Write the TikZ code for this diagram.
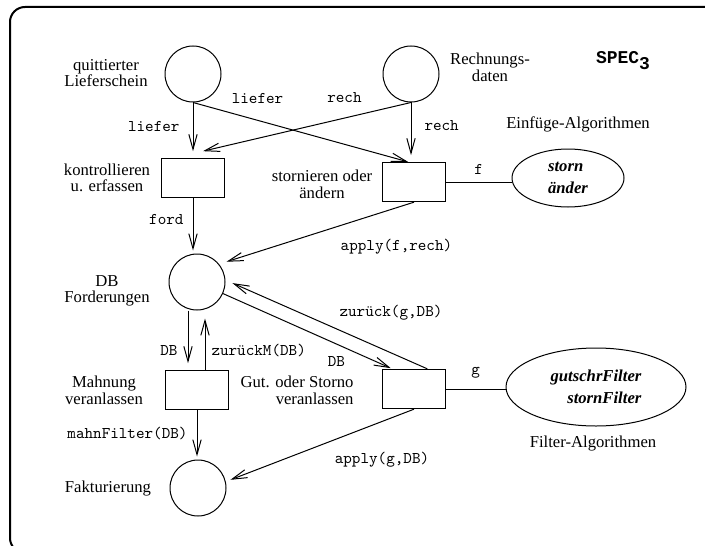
\documentclass[tikz,border=0pt]{standalone}
\usepackage{fontspec}
\setmainfont{Liberation Serif}
\newfontfamily\specfont{Liberation Mono}
\usetikzlibrary{arrows.meta,positioning,shapes.geometric}
\tikzset{
    every node/.append style={font=\fontsize{10}{10}\selectfont},
    place/.style={draw,circle,minimum size=33.6pt,inner sep=0pt},
    trans/.style={draw,rectangle,minimum width=37.5pt,minimum height=23.6pt,inner sep=0pt},
    algo/.style={draw,ellipse,inner sep=0pt,font=\bfseries\itshape\fontsize{10}{13}\selectfont},
    arc/.style={-{Straight Barb[length=9pt,width=5pt]}},
    lab/.style={align=center,inner sep=0pt},
    var/.style={font=\ttfamily\fontsize{9.8}{10}\selectfont,inner sep=0pt}}
\newcommand{\spec}[1]{SPEC\raisebox{-3.6pt}{#1}}

\begin{document}
\begin{tikzpicture}[x=0.6pt,y=-0.6pt,line width=0.6pt]
    \useasboundingbox (0,0) rectangle (705,545);
    \begin{scope}
        \clip (0,0) rectangle (705,545);
        \draw[line width=1.2pt,rounded corners=9pt] (10,7) rectangle (730,553);
    \end{scope}

    % Stellen und Transitionen
    \node[place] (lief) at (193,74) {};
    \node[place] (rech) at (411,74) {};
    \node[trans] (kontr) at (193,178) {};
    \node[trans] (storn) at (414,182) {};
    \node[algo,minimum width=67.2pt,minimum height=34.8pt,align=left] (einf) at (568,178) {storn\\änder};
    \node[place] (dbf) at (197,282) {};
    \node[trans] (mahn) at (197,390) {};
    \node[trans] (gut) at (414,389) {};
    \node[algo,minimum width=108pt,minimum height=46.8pt,align=right] (filt) at (596,387) {gutschrFilter\\stornFilter};
    \node[place] (fakt) at (198,488) {};

    % Beschriftungen
    \node[lab] (liefL) at (106,73) {quittierter\\Lieferschein};
    \node[lab] (rechL) at (490,67) {Rechnungs-\\daten};
    \node[inner sep=0pt,font=\specfont\bfseries\fontsize{10.8}{12}\selectfont] (specL) at (623,61) {\spec{3}};
    \node[lab] (einfL) at (578,124) {Einfüge-Algorithmen};
    \node[lab] (kontrL) at (107,178) {kontrollieren\\u. erfassen};
    \node[lab] (stornL) at (322,184) {stornieren oder\\ändern};
    \node[lab] (dbfL) at (107,291) {DB\\Forderungen};
    \node[lab] (mahnL) at (104,390) {Mahnung\\veranlassen};
    \node[lab,align=right,anchor=east] (gutL) at (354,390) {Gut. oder Storno\\veranlassen};
    \node[lab] (filtL) at (593,444) {Filter-Algorithmen};
    \node[lab] (faktL) at (108,489) {Fakturierung};

    \path[arc]
    (lief.south) edge[shorten >=4pt] node[var,left=7.8pt,pos=0.43] {liefer} (lief.south |- kontr.north)
    (lief.south) edge node[var,above=10pt,pos=0.30] {liefer} ([xshift=-3.6pt]storn.north)
    (rech.south) edge node[var,above=9pt,pos=0.32] {rech} ([shift={(6pt,4pt)}]kontr.north)
    (rech.south) edge[shorten >=4pt] node[var,right=7.8pt,pos=0.39] {rech} (rech.south |- storn.north)
    (kontr.south) edge[shorten >=1.8pt] node[var,left=5.4pt,pos=0.39] {ford} (kontr.south |- dbf.north)
    (storn.south) edge[shorten >=4.6pt] node[var,below=18.6pt,pos=0.09] {apply(f,rech)} (dbf.39)
    ([xshift=-5.4pt]dbf.south) edge[shorten >=4pt] node[var,left=6pt,pos=0.67] {DB} ([xshift=-5.4pt]dbf.south |- mahn.north)
    ([xshift=4.8pt]mahn.north) edge[shorten >=4.8pt] node[var,right=3.6pt,pos=0.33] {zurückM(DB)} ([xshift=4.8pt]mahn.north |- dbf.south)
    (dbf.-24) edge[shorten >=1pt] node[var,below=7pt,pos=0.67] {DB} ([xshift=6pt]gut.north west)
    ([xshift=8pt]gut.north) edge[shorten >=4.6pt] node[var,above=19pt,pos=0.18] {zurück(g,DB)} (dbf.4)
    (mahn.south) edge[shorten >=1.8pt] node[var,left=5.4pt,pos=0.47] {mahnFilter(DB)} (mahn.south |- fakt.north)
    (gut.south) edge[shorten >=3pt] node[var,below=18pt,pos=0.17] {apply(g,DB)} (fakt.13);

    \path
    (storn.east) edge node[var,above=4pt] {f} (storn.east -| einf.west)
    (gut.east) edge node[var,above=6pt] {g} (gut.east -| filt.west);
\end{tikzpicture}
\end{document}
